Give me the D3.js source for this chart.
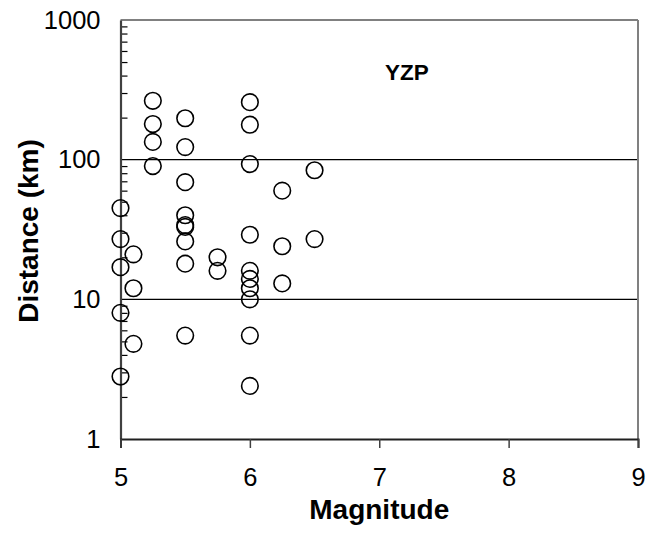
<!DOCTYPE html>
<html><head><meta charset="utf-8">
<script src="https://cdn.jsdelivr.net/npm/d3@7"></script>
<style>
html,body{margin:0;padding:0;background:#fff;}
svg{display:block;font-family:"Liberation Sans",Arial,sans-serif;}
</style></head>
<body><svg id="c" width="650" height="533"></svg>
<script>
const magnitudes = [5,5,5,5,5, 5.1,5.1,5.1, 5.25,5.25,5.25,5.25,
  5.5,5.5,5.5,5.5,5.5,5.5,5.5,5.5,5.5, 5.75,5.75,
  6,6,6,6,6,6,6,6,6,6, 6.25,6.25,6.25, 6.5,6.5];
const distances = [45,27,17,8,2.8, 21,12,4.8, 264,180,134,90,
  198,123,69,40,34,33,26,18,5.5, 20,16,
  258,178,93,29,16,14,12,10,5.5,2.4, 60,24,13, 84,27];
const xTicks = [5,6,7,8,9];
const yTicks = [1,10,100,1000];
const gridValues = [10,100];
const stationLabel = "YZP";
const xTitle = "Magnitude";
const yTitle = "Distance (km)";

const svg = d3.select("#c");
const x = d3.scaleLinear().domain([5,9]).range([120.5,638]);
const y = d3.scaleLog().domain([1,1000]).range([439,20]);

// gridlines
svg.append("g").selectAll("line").data(gridValues).join("line")
  .attr("x1",x(5)).attr("x2",x(9))
  .attr("y1",d=>y(d)).attr("y2",d=>y(d))
  .attr("stroke","#000").attr("stroke-width",1.2);

// top and right frame
svg.append("line").attr("x1",x(5)).attr("x2",x(9)).attr("y1",y(1000)).attr("y2",y(1000))
  .attr("stroke","#808080").attr("stroke-width",2);
svg.append("line").attr("x1",x(9)).attr("x2",x(9)).attr("y1",y(1000)).attr("y2",y(1))
  .attr("stroke","#808080").attr("stroke-width",2);

// minor y ticks (inside)
const minor = [];
for (let p=1;p<1000;p*=10) for (let k=2;k<=9;k++) minor.push(p*k);
svg.append("g").attr("transform",`translate(${x(5)},0)`)
  .call(d3.axisRight(y).tickValues(minor).tickSize(7).tickFormat(""))
  .call(g=>g.select(".domain").remove())
  .call(g=>g.selectAll("line").attr("stroke","#000").attr("stroke-width",1.2));

// y axis
svg.append("g").attr("transform",`translate(${x(5)},0)`)
  .call(d3.axisLeft(y).tickValues(yTicks).tickSize(0).tickPadding(20).tickFormat(d3.format("d")))
  .call(g=>g.select(".domain").attr("stroke","#404040").attr("stroke-width",2.2))
  .call(g=>g.selectAll("text").attr("font-size",25.5).attr("fill","#000")
     .attr("font-family","'Liberation Sans',Arial,sans-serif"));

// x axis
svg.append("g").attr("transform",`translate(0,${y(1)})`)
  .call(d3.axisBottom(x).tickValues(xTicks).tickSize(9).tickPadding(20).tickFormat(d3.format("d")))
  .call(g=>g.select(".domain").attr("stroke","#202020").attr("stroke-width",2))
  .call(g=>g.selectAll("line").attr("stroke","#404040").attr("stroke-width",1.5))
  .call(g=>g.selectAll("text").attr("font-size",25.5).attr("fill","#000")
     .attr("font-family","'Liberation Sans',Arial,sans-serif"));

// points
svg.append("g").selectAll("circle").data(magnitudes.map((m,i)=>({m,d:distances[i]}))).join("circle")
  .attr("cx",d=>x(d.m)).attr("cy",d=>y(d.d)).attr("r",8.3)
  .attr("fill","none").attr("stroke","#000").attr("stroke-width",1.6);

// titles
svg.append("text").attr("x",x(7)).attr("y",519).attr("text-anchor","middle")
  .attr("font-size",28).attr("font-weight","bold").text(xTitle);
svg.append("text").attr("transform",`translate(38,231) rotate(-90)`).attr("text-anchor","middle")
  .attr("font-size",28).attr("font-weight","bold").text(yTitle);
svg.append("text").attr("x",407).attr("y",80).attr("text-anchor","middle")
  .attr("font-size",22.5).attr("font-weight","bold").text(stationLabel);
</script></body></html>
